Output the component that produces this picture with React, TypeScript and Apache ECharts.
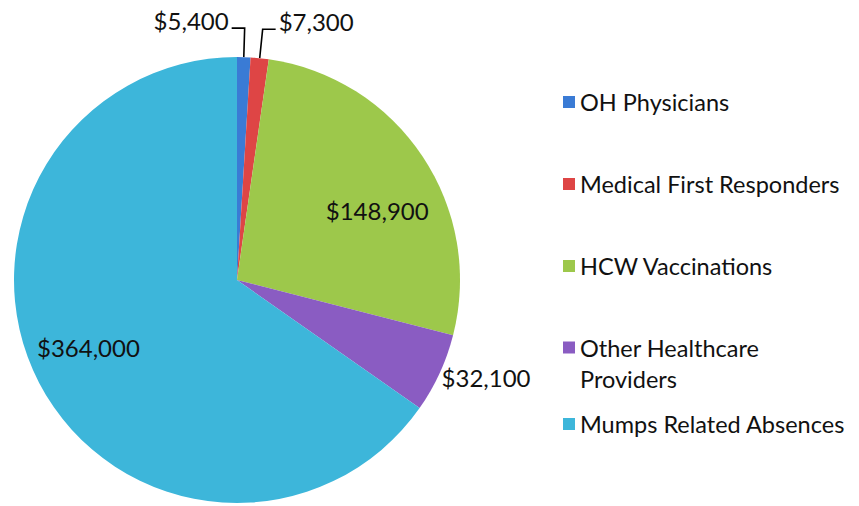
import React, { useEffect, useRef } from "react";
import * as echarts from "echarts";

const categories = [
  "OH Physicians",
  "Medical First Responders",
  "HCW Vaccinations",
  "Other Healthcare Providers",
  "Mumps Related Absences",
];
const values = [5400, 7300, 148900, 32100, 364000];
const valueLabels = ["$5,400", "$7,300", "$148,900", "$32,100", "$364,000"];
const colors = ["#3A7BD5", "#DE4545", "#9DC84B", "#8A5CC2", "#3DB6DA"];

const FONT = "Lato";
const CX = 237;
const CY = 280;
const R = 223;

export default function App() {
  const ref = useRef<HTMLDivElement>(null);
  useEffect(() => {
    if (!ref.current) return;
    const chart = echarts.init(ref.current, undefined, { renderer: "svg" });
    const insideShift: Record<number, number[]> = { 2: [45, -6], 4: [-47, 15] };
    const data = categories.map((name, i) => {
      const item: any = {
        name,
        value: values[i],
        itemStyle: { color: colors[i] },
      };
      if (i === 2 || i === 4) {
        item.label = { position: "inside" };
        item.labelLine = { show: false };
      } else if (i === 3) {
        item.label = { position: "outside", distanceToLabelLine: 0 };
        item.labelLine = { show: false, length: 1, length2: 1 };
      } else {
        item.label = { position: "outside", distanceToLabelLine: 3 };
        item.labelLine = {
          show: true,
          length: 29,
          length2: 13,
          lineStyle: { color: "#000", width: 1.6 },
        };
      }
      return item;
    });
    const legendText = {
      fontFamily: FONT,
      fontSize: 23.5,
      color: "#111",
    };
    chart.setOption({
      animation: false,
      backgroundColor: "#fff",
      legend: [
        {
          orient: "vertical",
          left: 558,
          top: 84,
          itemWidth: 12,
          itemHeight: 12,
          itemGap: 56,
          icon: "rect",
          data: categories.slice(0, 3),
          textStyle: { ...legendText, lineHeight: 26 },
          selectedMode: false,
        },
        {
          orient: "vertical",
          left: 558,
          top: 296,
          itemWidth: 12,
          itemHeight: 12,
          icon: "rect",
          data: [categories[3]],
          formatter: () => "\nOther Healthcare\nProviders",
          textStyle: { ...legendText, lineHeight: 31 },
          selectedMode: false,
        },
        {
          orient: "vertical",
          left: 558,
          top: 406,
          itemWidth: 12,
          itemHeight: 12,
          icon: "rect",
          data: [categories[4]],
          textStyle: { ...legendText, lineHeight: 26 },
          selectedMode: false,
        },
      ],
      series: [
        {
          type: "pie",
          center: [CX, CY],
          radius: R,
          startAngle: 90,
          clockwise: true,
          avoidLabelOverlap: false,
          data,
          label: {
            formatter: (p: any) => valueLabels[p.dataIndex],
            fontFamily: FONT,
            fontSize: 24,
            color: "#111",
          },
          labelLayout: (p: any) => {
            const i = p.dataIndex;
            const rect = p.labelRect;
            if (insideShift[i]) {
              return { dx: insideShift[i][0], dy: insideShift[i][1] };
            }
            if (i === 0 && p.labelLinePoints) {
              const pts = p.labelLinePoints;
              const len2 = Math.abs(pts[2][0] - pts[1][0]);
              const end = [pts[1][0] - len2, pts[1][1]];
              return {
                x: end[0] - 3 - rect.width,
                y: end[1] - rect.height / 2 - 8,
                align: "left",
                verticalAlign: "top",
                labelLinePoints: [pts[0], pts[1], end],
              };
            }
            if (i === 1) {
              return { dy: -8 };
            }
            if (i === 3) {
              return { dy: 4 };
            }
            return {};
          },
          emphasis: { disabled: true },
        },
      ],
    });
    return () => chart.dispose();
  }, []);
  return (
    <div
      ref={ref}
      style={{ position: "fixed", left: 0, top: 0, width: 859, height: 506 }}
    />
  );
}
